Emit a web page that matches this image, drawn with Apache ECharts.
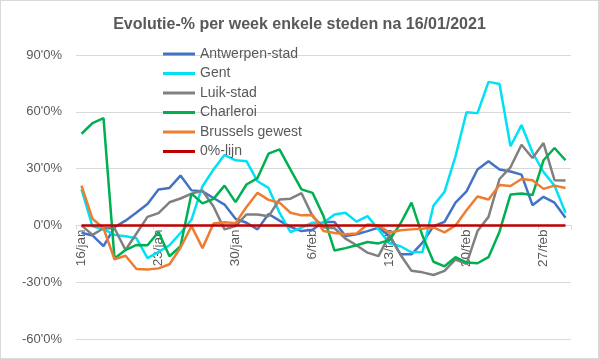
<!DOCTYPE html>
<html>
<head>
<meta charset="utf-8">
<script src="https://cdn.jsdelivr.net/npm/echarts@6/dist/echarts.min.js"></script>
<style>
html,body{margin:0;padding:0;background:#fff;}
#c{position:absolute;left:0;top:0;width:599px;height:359px;}
#b{position:absolute;left:0;top:0;width:597px;height:357px;border:1px solid #d9d9d9;pointer-events:none;}
</style>
</head>
<body>
<div id="c"></div>
<div id="b"></div>
<script>
const categories = ["16/jan","17/jan","18/jan","19/jan","20/jan","21/jan","22/jan","23/jan","24/jan","25/jan","26/jan","27/jan","28/jan","29/jan","30/jan","31/jan",
"1/feb","2/feb","3/feb","4/feb","5/feb","6/feb","7/feb","8/feb","9/feb","10/feb","11/feb","12/feb","13/feb","14/feb","15/feb","16/feb","17/feb","18/feb","19/feb","20/feb","21/feb","22/feb","23/feb","24/feb","25/feb","26/feb","27/feb","28/feb","1/mar"];

const antwerpen = [-3.9,-5.3,-10.9,-1,2.5,6.8,11.3,19,19.8,26.3,18.5,18,14.5,11,3.5,1.4,-2.1,6,2.5,-0.8,-3,-2.3,1.8,1.8,-5.6,-4.7,-3,-1.2,-5.6,-15.3,-15.3,-9.1,-0.4,1.9,12,18,29.5,33.9,29.5,28.5,26.8,10.7,15.1,12,4];
const gent = [19,-0.5,-2,-5,-5.7,-6.8,-17.3,-14,-10.5,-4,3,20.7,29.5,37.2,34.4,33.9,23.3,19.8,6.7,-3.5,-1.2,1.4,1.4,5.8,6.7,2,4.9,-2.1,-9.5,-11,-14.2,-14,10.5,17.7,36.5,59.8,59.3,75.8,74.7,41.8,53,38.5,28.2,21,6.7];
const luik = [0,-5,-1.5,-1.5,-13,-4.3,4.5,6.5,12.2,14.2,16.8,18.3,10,-2.1,-0.4,5.8,5.8,4.8,13.7,14.1,17,4.9,-1,-1.5,-7,-10.5,-14.4,-16.2,-5,-15.5,-24,-24.8,-26.2,-24,-18,-20.3,-3,4.5,24.5,30.7,42.6,35.6,43.5,23.9,23.7];
const charleroi = [48.4,54,56.7,-17.5,-13,-10.3,-10.5,-3.5,-16.3,-11,16.8,11.6,14,21,12.3,21.6,25,37.9,40.2,29.5,19,17.2,4.9,-13.3,-12,-10.5,-8.8,-9.5,-7.7,1,12,-5.5,-19.2,-21.6,-16.8,-19.6,-20,-16.8,-3.3,16.3,16.8,16,34.4,40.9,34.4];
const brussels = [21,3.5,-1.5,-17.9,-16,-23,-23.3,-22.7,-20.5,-11.8,-0.4,-12,1,1.7,1.2,9.7,17.2,13.5,12,6.7,5.3,5.5,-3,-4,-4.7,-4.3,0.5,0,-3.9,-2.6,-2.1,-1.8,-1,-3.7,0,8,15.3,13.7,21.3,20.8,24.5,23.9,19.3,21,19.8];
const nullLine = categories.map(() => 0);

const seriesNames = ["Antwerpen-stad","Gent","Luik-stad","Charleroi","Brussels gewest","0%-lijn"];
const seriesColors = ["#4472C4","#00E1F5","#808080","#00B050","#ED7D31","#C00000"];
const seriesData = [antwerpen, gent, luik, charleroi, brussels, nullLine];

const yMin = -60, yMax = 90, yInterval = 30;

const W = 599, H = 359;
const gridTop = 55, gridBottom = 20;
const plotH = H - gridTop - gridBottom;
const zeroOffset = -plotH * (0 - yMin) / (yMax - yMin);

const chart = echarts.init(document.getElementById('c'), null, {renderer:'canvas'});
const font = "Liberation Sans";
chart.setOption({
  animation:false,
  backgroundColor:'#ffffff',
  textStyle:{fontFamily:font},
  title:{
    text:'Evolutie-% per week enkele steden na 16/01/2021',
    left:'center', top:12,
    textStyle:{fontSize:16,fontWeight:'bold',color:'#595959',fontFamily:font}
  },
  legend:{
    orient:'vertical', left:163, top:47, padding:0,
    itemWidth:32, itemHeight:3, itemGap:5.5,
    icon:'rect',
    data:seriesNames,
    textStyle:{fontSize:14,color:'#595959',lineHeight:14,fontFamily:font}
  },
  grid:{left:76,right:28,top:gridTop,bottom:gridBottom,containLabel:false},
  xAxis:{
    type:'category', data:categories, boundaryGap:true,
    offset: zeroOffset,
    axisLine:{onZero:false,lineStyle:{color:'#d9d9d9',width:1}},
    axisTick:{show:true,interval:6,length:4,lineStyle:{color:'#d9d9d9'}},
    axisLabel:{interval:6,rotate:90,color:'#595959',fontSize:13.5,margin:4,fontFamily:font},
    splitLine:{show:false}
  },
  yAxis:{
    type:'value', min:yMin, max:yMax, interval:yInterval,
    axisLine:{show:false}, axisTick:{show:false},
    axisLabel:{color:'#595959',fontSize:13,margin:14,fontFamily:font,formatter:v=>v+"'0%"},
    splitLine:{lineStyle:{color:'#d9d9d9',width:1}}
  },
  series: seriesNames.map((n,i)=>({
    name:n, type:'line', data:seriesData[i],
    showSymbol:false, symbol:'none',
    lineStyle:{color:seriesColors[i],width:2.5},
    itemStyle:{color:seriesColors[i]},
    z: 2+i
  }))
});
</script>
</body>
</html>
